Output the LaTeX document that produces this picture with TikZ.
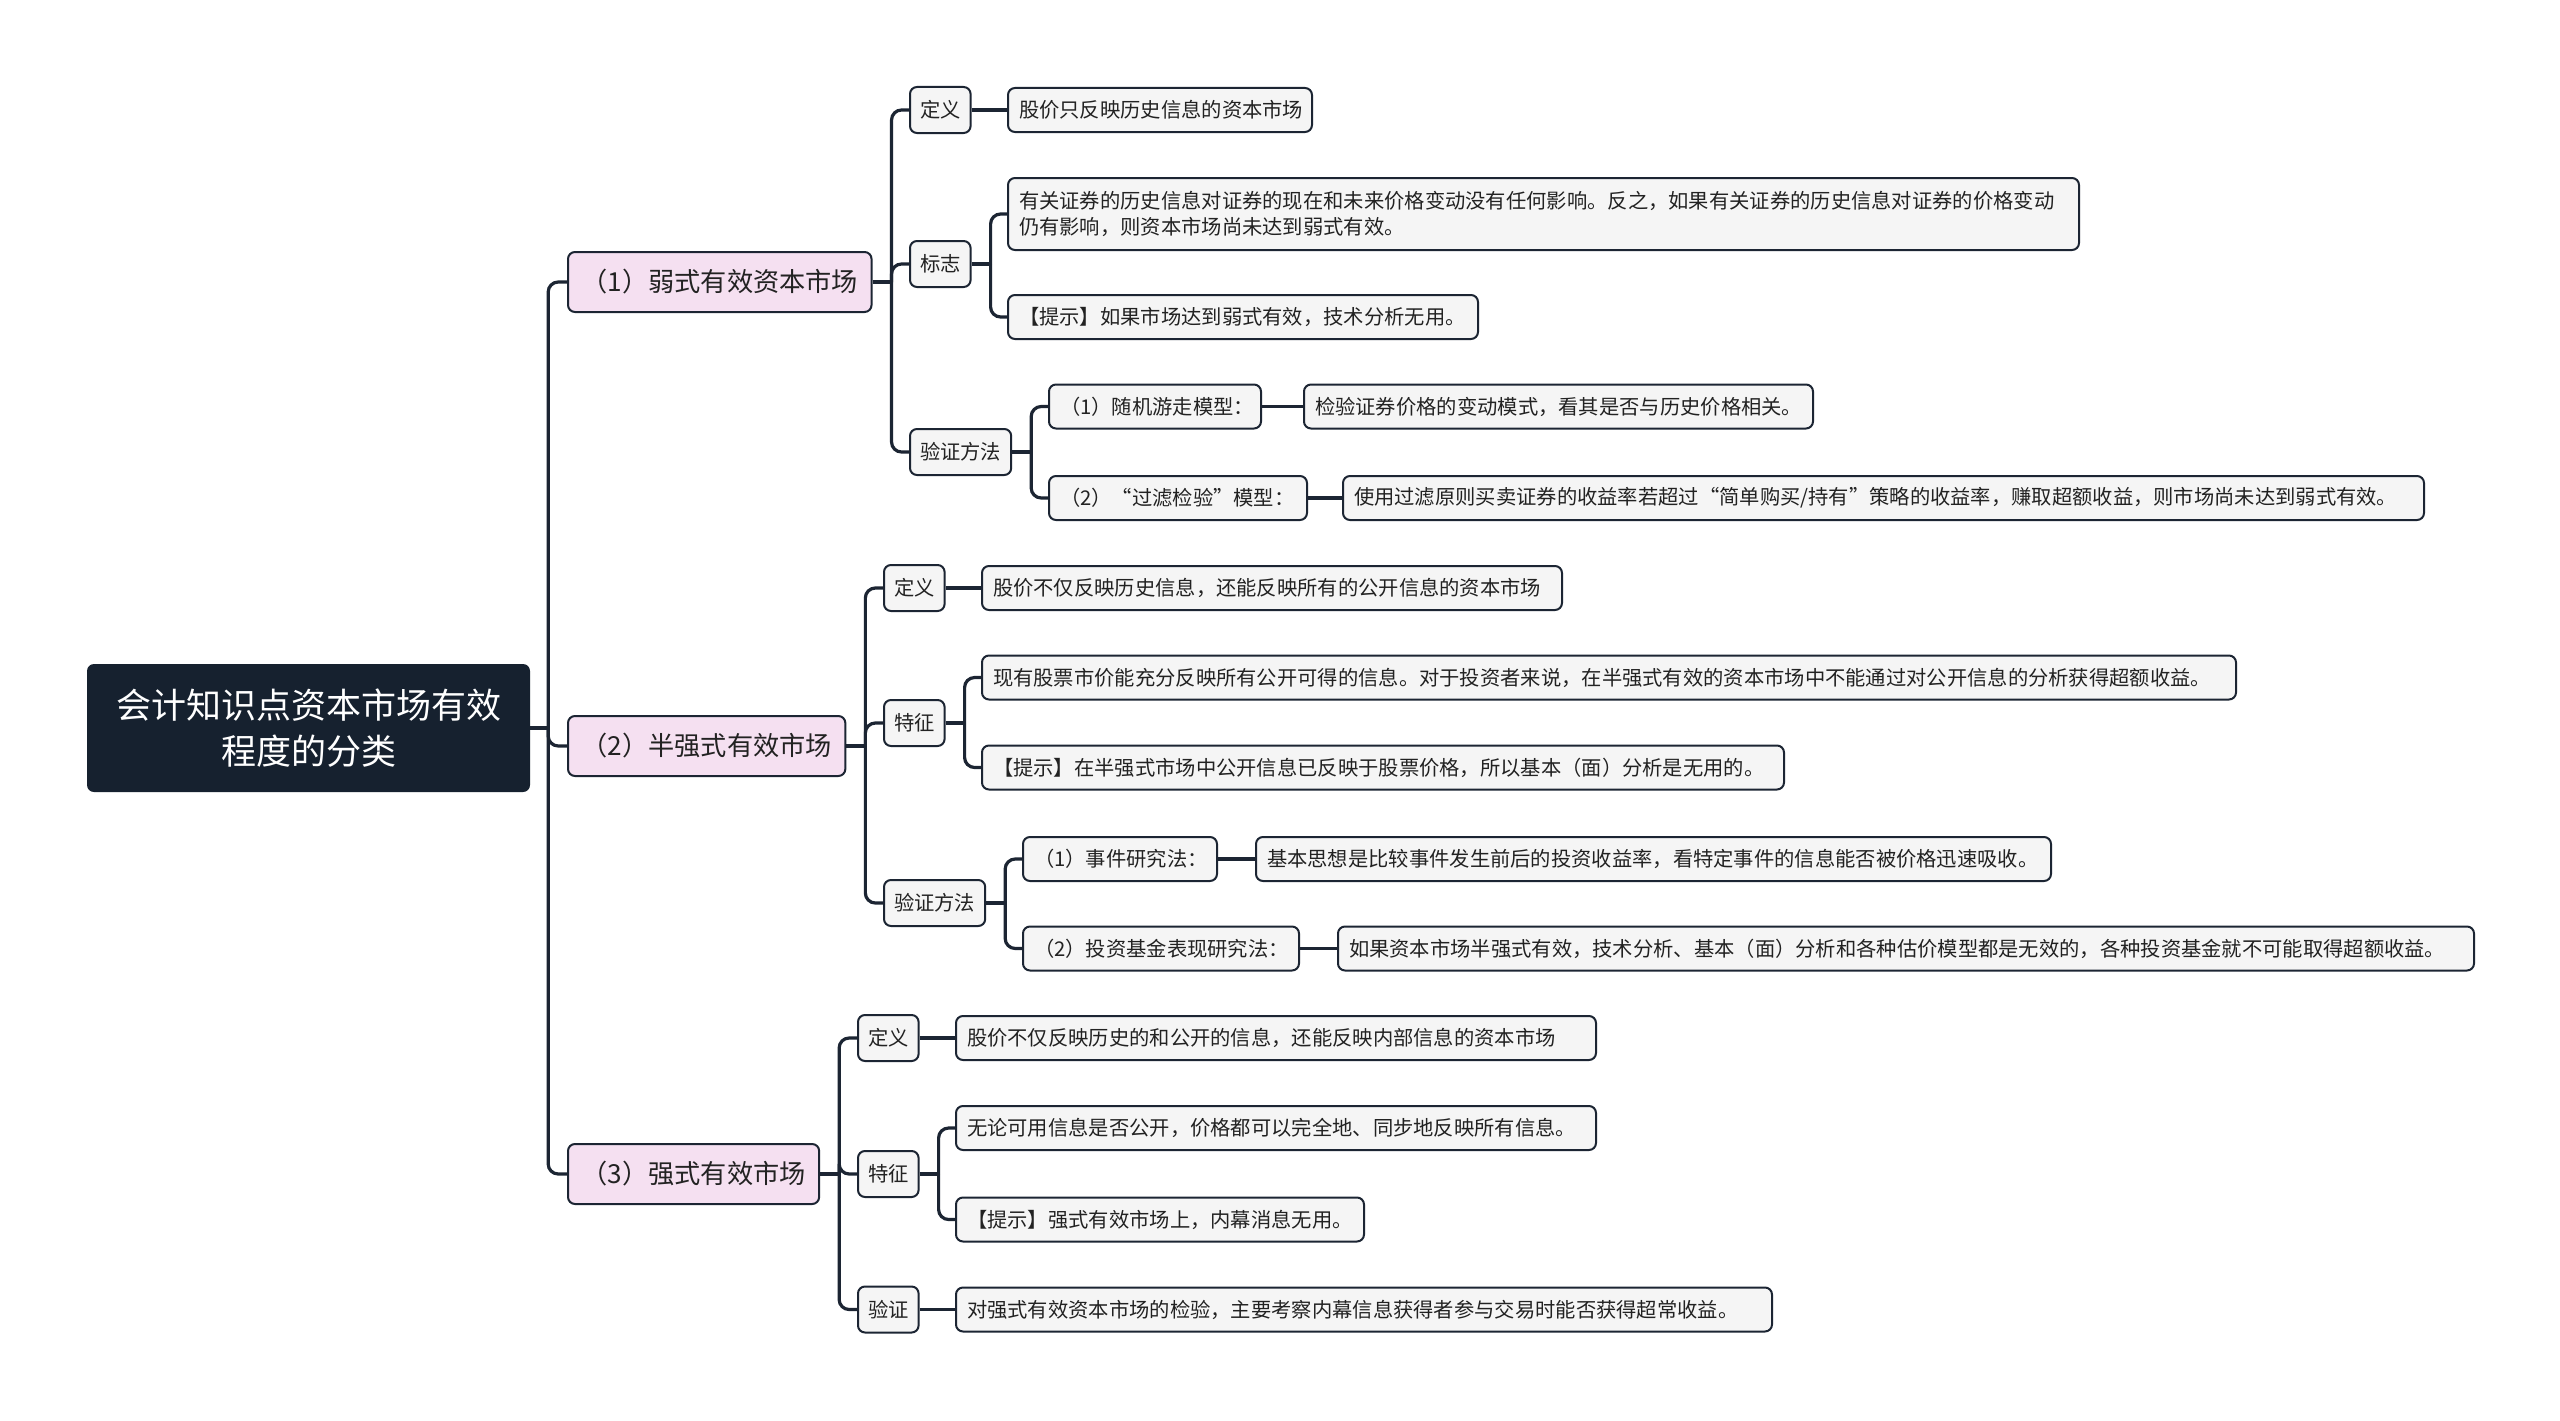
\documentclass[tikz,border=0pt]{standalone}
\usepackage{fontspec}
\setmainfont{Noto Sans CJK SC}
\definecolor{lc}{HTML}{1C2533}
\definecolor{rootc}{HTML}{16212F}
\definecolor{pinkc}{HTML}{F5E0F1}
\definecolor{grayc}{HTML}{F5F5F5}
\definecolor{txtc}{HTML}{222222}
\tikzset{
  conn/.style={line width=3.2pt, draw=lc},
  bus/.style={line width=3.2pt, draw=lc, rounded corners=10pt},
  rootbox/.style={fill=rootc, rounded corners=7pt, text=white, font=\fontsize{35}{46}\selectfont, minimum width=443pt, minimum height=128pt, align=center, inner sep=0pt},
  lone/.style={draw=lc, line width=2pt, fill=pinkc, rounded corners=7pt, text=txtc, font=\fontsize{26.2}{32}\selectfont, minimum height=60pt, inner xsep=13.5pt, anchor=west},
  ltwo/.style={draw=lc, line width=2pt, fill=grayc, rounded corners=7pt, text=txtc, font=\fontsize{20.3}{26}\selectfont, minimum height=46pt, inner xsep=10pt, anchor=west},
  leaf/.style={draw=lc, line width=2pt, fill=grayc, rounded corners=7pt, text=txtc, font=\fontsize{20.3}{26}\selectfont, minimum height=44pt, inner xsep=11pt, anchor=west, align=left},
  tw/.style={text width=#1pt},
}
\begin{document}
\begin{tikzpicture}[x=1pt,y=-1pt]
\useasboundingbox (0,0) rectangle (2560,1421);
\fill[white] (0,0) rectangle (2560,1421);
% root
\node[rootbox] (root) at (308.5,728) {会计知识点资本市场有效\\程度的分类};
% level 1
\node[lone] (a) at (567,282) {（1）弱式有效资本市场};
\node[lone] (b) at (567,746) {（2）半强式有效市场};
\node[lone] (c) at (567,1174) {（3）强式有效市场};
% weak form
\node[ltwo] (a1) at (909,110) {定义};
\node[ltwo] (a2) at (909,264) {标志};
\node[ltwo] (a3) at (909,452) {验证方法};
\node[leaf, tw=282] (a1x) at (1007,110) {股价只反映历史信息的资本市场};
\node[leaf, tw=1049, minimum height=72pt] (a2x) at (1007,214) {有关证券的历史信息对证券的现在和未来价格变动没有任何影响。反之，如果有关证券的历史信息对证券的价格变动\\仍有影响，则资本市场尚未达到弱式有效。};
\node[leaf, tw=448] (a2y) at (1007,317) {【提示】如果市场达到弱式有效，技术分析无用。};
\node[leaf, tw=190] (a3a) at (1048,406.5) {（1）随机游走模型：};
\node[leaf, tw=236] (a3b) at (1048,498) {（2）“过滤检验”模型：};
\node[leaf, tw=487] (a3ax) at (1303,406.5) {检验证券价格的变动模式，看其是否与历史价格相关。};
\node[leaf, tw=1059] (a3bx) at (1342,498) {使用过滤原则买卖证券的收益率若超过“简单购买/持有”策略的收益率，赚取超额收益，则市场尚未达到弱式有效。};
% semi-strong form
\node[ltwo] (b1) at (883,588) {定义};
\node[ltwo] (b2) at (883,723) {特征};
\node[ltwo] (b3) at (883,903) {验证方法};
\node[leaf, tw=558] (b1x) at (981,588) {股价不仅反映历史信息，还能反映所有的公开信息的资本市场};
\node[leaf, tw=1232] (b2x) at (981,677.5) {现有股票市价能充分反映所有公开可得的信息。对于投资者来说，在半强式有效的资本市场中不能通过对公开信息的分析获得超额收益。};
\node[leaf, tw=780] (b2y) at (981,767.5) {【提示】在半强式市场中公开信息已反映于股票价格，所以基本（面）分析是无用的。};
\node[leaf, tw=172] (b3a) at (1022,859) {（1）事件研究法：};
\node[leaf, tw=254] (b3b) at (1022,948.5) {（2）投资基金表现研究法：};
\node[leaf, tw=773] (b3ax) at (1255,859) {基本思想是比较事件发生前后的投资收益率，看特定事件的信息能否被价格迅速吸收。};
\node[leaf, tw=1114] (b3bx) at (1337,948.5) {如果资本市场半强式有效，技术分析、基本（面）分析和各种估价模型都是无效的，各种投资基金就不可能取得超额收益。};
% strong form
\node[ltwo] (c1) at (857,1038) {定义};
\node[ltwo] (c2) at (857,1174) {特征};
\node[ltwo] (c3) at (857,1309.5) {验证};
\node[leaf, tw=618] (c1x) at (955,1038) {股价不仅反映历史的和公开的信息，还能反映内部信息的资本市场};
\node[leaf, tw=618] (c2x) at (955,1128) {无论可用信息是否公开，价格都可以完全地、同步地反映所有信息。};
\node[leaf, tw=386] (c2y) at (955,1219.5) {【提示】强式有效市场上，内幕消息无用。};
\node[leaf, tw=794] (c3x) at (955,1309.5) {对强式有效资本市场的检验，主要考察内幕信息获得者参与交易时能否获得超常收益。};
% connectors
\draw[conn] (root.east) -- ++(18,0) coordinate (rb);
\foreach \k in {a,b,c} \draw[bus] (rb) |- (\k.west);
\draw[conn] (a.east) -- ++(19,0) coordinate (ab);
\foreach \k in {a1,a2,a3} \draw[bus] (ab) |- (\k.west);
\draw[conn] (b.east) -- ++(19,0) coordinate (bb);
\foreach \k in {b1,b2,b3} \draw[bus] (bb) |- (\k.west);
\draw[conn] (c.east) -- ++(19,0) coordinate (cb);
\foreach \k in {c1,c2,c3} \draw[bus] (cb) |- (\k.west);
\draw[conn] (a1.east) -- (a1x.west);
\draw[conn] (a2.east) -- ++(19,0) coordinate (a2b);
\foreach \k in {a2x,a2y} \draw[bus] (a2b) |- (\k.west);
\draw[conn] (a3.east) -- ++(19,0) coordinate (a3bb);
\foreach \k in {a3a,a3b} \draw[bus] (a3bb) |- (\k.west);
\draw[conn] (a3a.east) -- (a3ax.west);
\draw[conn] (a3b.east) -- (a3bx.west);
\draw[conn] (b1.east) -- (b1x.west);
\draw[conn] (b2.east) -- ++(19,0) coordinate (b2b);
\foreach \k in {b2x,b2y} \draw[bus] (b2b) |- (\k.west);
\draw[conn] (b3.east) -- ++(19,0) coordinate (b3bb);
\foreach \k in {b3a,b3b} \draw[bus] (b3bb) |- (\k.west);
\draw[conn] (b3a.east) -- (b3ax.west);
\draw[conn] (b3b.east) -- (b3bx.west);
\draw[conn] (c1.east) -- (c1x.west);
\draw[conn] (c2.east) -- ++(19,0) coordinate (c2b);
\foreach \k in {c2x,c2y} \draw[bus] (c2b) |- (\k.west);
\draw[conn] (c3.east) -- (c3x.west);
\end{tikzpicture}
\end{document}
